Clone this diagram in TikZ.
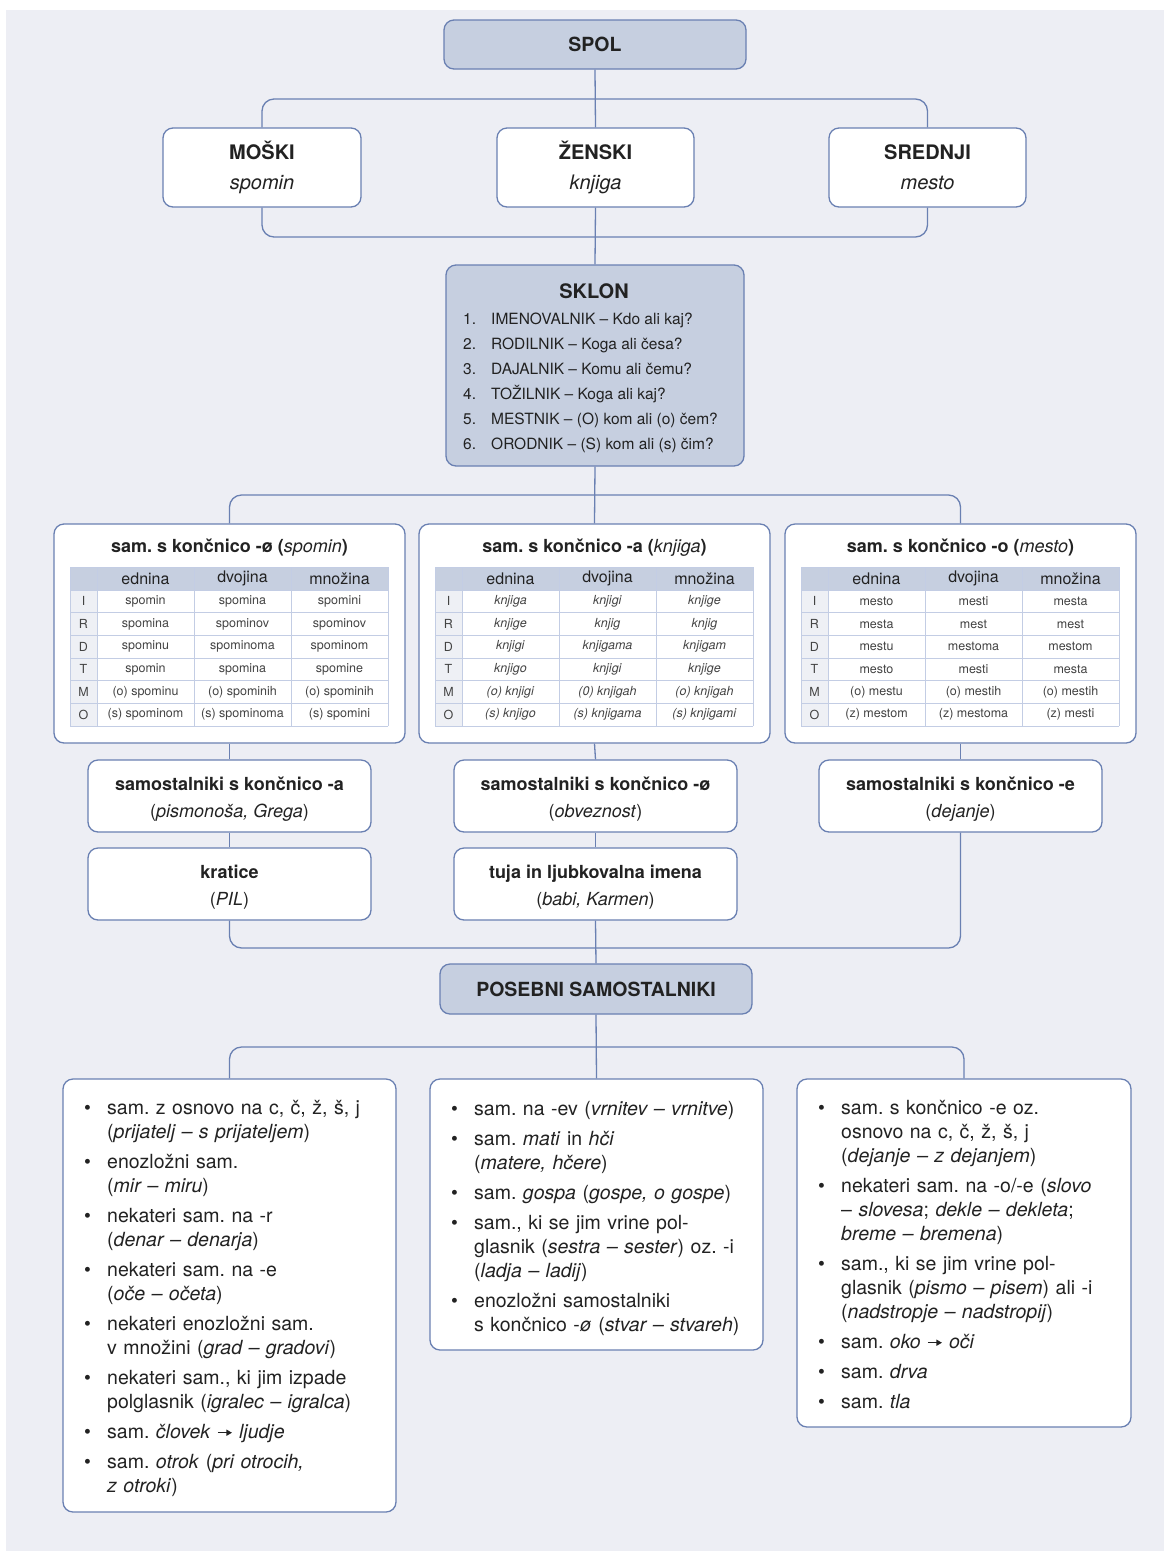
\documentclass[tikz,border=0pt]{standalone}
\usepackage{fontspec}
\setmainfont{TeX Gyre Heros}
\usetikzlibrary{arrows.meta}
\definecolor{bgc}{HTML}{EDEEF4}
\definecolor{edgec}{HTML}{6A80B2}
\definecolor{headc}{HTML}{C6CFE0}
\definecolor{gridc}{HTML}{C3CDE4}
\definecolor{labc}{HTML}{EEF0F5}
\definecolor{txt}{HTML}{222222}
\newcommand{\fs}[2]{\fontsize{#1}{#2}\selectfont}
\newcommand{\bitem}{\par\hangindent=23pt\hangafter=1\noindent\makebox[23pt][l]{•}}
\newcommand{\arr}{\tikz[baseline={(0pt,-5.5pt)}]\draw[txt, line width=1.3pt, -{Triangle[length=5.5pt,width=6pt]}] (0pt,0pt) -- (14pt,0pt);}
\newcommand{\tgrid}[1]{%
  \fill[headc] (#1,567) rectangle ++(318,23);
  \fill[labc] (#1,590) rectangle ++(27,136);
  \foreach \yy in {567,590,612.67,635.33,658,680.67,703.33,726} \draw[gridl] (#1,\yy) -- ++(318,0);
  \foreach \xx in {0,27,124,221,318} \draw[gridl] (#1+\xx,567) -- ++(0,159);
}
\newcommand{\thead}[2]{%
  \node[thd] (#1e) at (#2+75.5,578.5) {ednina};
  \node[thd] (#1d) at (#2+172.5,578.5) {dvojina};
  \node[thd] (#1m) at (#2+269.5,578.5) {množina};
}
\newcommand{\trow}[7]{%
  \node[cell] (#1l) at (#2+13.5,#3) {#4};
  \node[cell] (#1a) at (#2+75.5,#3) {#5};
  \node[cell] (#1b) at (#2+172.5,#3) {#6};
  \node[cell] (#1c) at (#2+269.5,#3) {#7};
}
\begin{document}
\frenchspacing
\begin{tikzpicture}[x=1pt,y=-1pt,
  box/.style={draw=edgec, line width=1.3pt, fill=white, rounded corners=10pt, inner sep=0pt, text=txt},
  hbox/.style={box, fill=headc},
  conn/.style={draw=edgec, line width=1.3pt, rounded corners=12pt},
  gridl/.style={draw=gridc, line width=0.9pt},
  cell/.style={inner sep=0pt, text=txt!85, font={\fs{12.5}{14}}},
  thd/.style={inner sep=0pt, text=txt, font={\fs{16}{18}}},
  ttl/.style={inner sep=0pt, text=txt, align=center},
  sbox/.style={box, minimum width=283, minimum height=72, align=center, font={\fs{18}{27}}},
  blist/.style={inner sep=0pt, text=txt, anchor=north west, text width=320pt, align=left, font={\fs{19.5}{24}}}
]
\useasboundingbox (0,0) rectangle (1164,1551);
\fill[white] (0,0) rectangle (1164,1551);
\fill[bgc] (6,10) rectangle (1164,1551);

% top
\node[hbox, minimum width=302, minimum height=49, font={\fs{19.5}{24}\bfseries}] (spol) at (595,44.5) {SPOL};
\node[box, minimum width=198, minimum height=79, align=center, font={\fs{20}{30}}] (mos) at (262,167.5) {\textbf{MOŠKI}\\\textit{spomin}};
\node[box, minimum width=197, minimum height=79, align=center, font={\fs{20}{30}}] (zen) at (595.5,167.5) {\textbf{ŽENSKI}\\\textit{knjiga}};
\node[box, minimum width=197, minimum height=79, align=center, font={\fs{20}{30}}] (sre) at (927.5,167.5) {\textbf{SREDNJI}\\\textit{mesto}};

% sklon
\node[hbox, minimum width=298, minimum height=201] (sklon) at (595,365.5) {};
\node[ttl, font={\fs{20}{24}\bfseries}] (sklt) at (594,291) {SKLON};
\node[inner sep=0pt, anchor=base west, text=txt, font={\fs{15.5}{18}}] (sk1) at (463,324) {\makebox[28pt][l]{1.}IMENOVALNIK – Kdo ali kaj?};
\node[inner sep=0pt, anchor=base west, text=txt, font={\fs{15.5}{18}}] (sk2) at (463,349) {\makebox[28pt][l]{2.}RODILNIK – Koga ali česa?};
\node[inner sep=0pt, anchor=base west, text=txt, font={\fs{15.5}{18}}] (sk3) at (463,374) {\makebox[28pt][l]{3.}DAJALNIK – Komu ali čemu?};
\node[inner sep=0pt, anchor=base west, text=txt, font={\fs{15.5}{18}}] (sk4) at (463,399) {\makebox[28pt][l]{4.}TOŽILNIK – Koga ali kaj?};
\node[inner sep=0pt, anchor=base west, text=txt, font={\fs{15.5}{18}}] (sk5) at (463,424) {\makebox[28pt][l]{5.}MESTNIK – (O) kom ali (o) čem?};
\node[inner sep=0pt, anchor=base west, text=txt, font={\fs{15.5}{18}}] (sk6) at (463,449) {\makebox[28pt][l]{6.}ORODNIK – (S) kom ali (s) čim?};

% table boxes
\node[box, minimum width=351, minimum height=219] (tA) at (229.5,633.5) {};
\node[box, minimum width=351, minimum height=219] (tB) at (594.5,633.5) {};
\node[box, minimum width=351, minimum height=219] (tC) at (960.5,633.5) {};
\node[ttl, font={\fs{18}{22}\bfseries}] (tAt) at (229.5,548) {sam. s končnico -ø ({\mdseries\itshape spomin})};
\node[ttl, font={\fs{18}{22}\bfseries}] (tBt) at (594.5,548) {sam. s končnico -a ({\mdseries\itshape knjiga})};
\node[ttl, font={\fs{18}{22}\bfseries}] (tCt) at (960.5,548) {sam. s končnico -o ({\mdseries\itshape mesto})};

\tgrid{70}
\tgrid{435}
\tgrid{801}
\thead{hA}{70}
\thead{hB}{435}
\thead{hC}{801}

\trow{a1}{70}{601.3}{I}{spomin}{spomina}{spomini}
\trow{a2}{70}{624}{R}{spomina}{spominov}{spominov}
\trow{a3}{70}{646.7}{D}{spominu}{spominoma}{spominom}
\trow{a4}{70}{669.3}{T}{spomin}{spomina}{spomine}
\trow{a5}{70}{692}{M}{(o) spominu}{(o) spominih}{(o) spominih}
\trow{a6}{70}{714.7}{O}{(s) spominom}{(s) spominoma}{(s) spomini}

\trow{b1}{435}{601.3}{I}{\textit{knjiga}}{\textit{knjigi}}{\textit{knjige}}
\trow{b2}{435}{624}{R}{\textit{knjige}}{\textit{knjig}}{\textit{knjig}}
\trow{b3}{435}{646.7}{D}{\textit{knjigi}}{\textit{knjigama}}{\textit{knjigam}}
\trow{b4}{435}{669.3}{T}{\textit{knjigo}}{\textit{knjigi}}{\textit{knjige}}
\trow{b5}{435}{692}{M}{\textit{(o) knjigi}}{\textit{(0) knjigah}}{\textit{(o) knjigah}}
\trow{b6}{435}{714.7}{O}{\textit{(s) knjigo}}{\textit{(s) knjigama}}{\textit{(s) knjigami}}

\trow{c1}{801}{601.3}{I}{mesto}{mesti}{mesta}
\trow{c2}{801}{624}{R}{mesta}{mest}{mest}
\trow{c3}{801}{646.7}{D}{mestu}{mestoma}{mestom}
\trow{c4}{801}{669.3}{T}{mesto}{mesti}{mesta}
\trow{c5}{801}{692}{M}{(o) mestu}{(o) mestih}{(o) mestih}
\trow{c6}{801}{714.7}{O}{(z) mestom}{(z) mestoma}{(z) mesti}

% small boxes
\node[sbox] (sa) at (229.5,796) {\rule{0pt}{19pt}\textbf{samostalniki s končnico -a}\\(\textit{pismonoša, Grega})};
\node[sbox] (sb) at (595.5,796) {\rule{0pt}{19pt}\textbf{samostalniki s končnico -ø}\\(\textit{obveznost})};
\node[sbox] (sc) at (960.5,796) {\rule{0pt}{19pt}\textbf{samostalniki s končnico -e}\\(\textit{dejanje})};
\node[sbox] (ka) at (229.5,884) {\rule{0pt}{19pt}\textbf{kratice}\\(\textit{PIL})};
\node[sbox] (kb) at (595.5,884) {\rule{0pt}{19pt}\textbf{tuja in ljubkovalna imena}\\(\textit{babi, Karmen})};

\node[hbox, minimum width=312, minimum height=50, font={\fs{19.5}{24}\bfseries}] (pos) at (596,989) {POSEBNI SAMOSTALNIKI};

% bottom boxes
\node[box, minimum width=333, minimum height=433] (ba) at (229.5,1295.5) {};
\node[box, minimum width=333, minimum height=271] (bb) at (596.5,1214.5) {};
\node[box, minimum width=334, minimum height=348] (bc) at (964,1253) {};

\node[blist] (la) at (84,1084) {\setlength{\parskip}{6pt}%
\bitem\rule{0pt}{20pt}sam. z osnovo na c, č, ž, š, j\newline (\textit{prijatelj – s prijateljem})
\bitem enozložni sam.\newline (\textit{mir – miru})
\bitem nekateri sam. na -r\newline (\textit{denar – denarja})
\bitem nekateri sam. na -e\newline (\textit{oče – očeta})
\bitem nekateri enozložni sam.\newline v množini (\textit{grad – gradovi})
\bitem nekateri sam., ki jim izpade\newline polglasnik (\textit{igralec – igralca})
\bitem sam. \textit{človek} \arr{} \textit{ljudje}
\bitem sam. \textit{otrok} (\textit{pri otrocih,}\newline \textit{z otroki})\par};

\node[blist] (lb) at (451,1085) {\setlength{\parskip}{6pt}%
\bitem\rule{0pt}{20pt}sam. na -ev (\textit{vrnitev – vrnitve})
\bitem sam. \textit{mati} in \textit{hči}\newline (\textit{matere, hčere})
\bitem sam. \textit{gospa} (\textit{gospe, o gospe})
\bitem sam., ki se jim vrine pol-\newline glasnik (\textit{sestra – sester}) oz. -i\newline (\textit{ladja – ladij})
\bitem enozložni samostalniki\newline s končnico -\textit{ø} (\textit{stvar – stvareh})\par};

\node[blist] (lc) at (818,1084) {\setlength{\parskip}{6pt}%
\bitem\rule{0pt}{20pt}sam. s končnico -e oz.\newline osnovo na c, č, ž, š, j\newline (\textit{dejanje – z dejanjem})
\bitem nekateri sam. na -o/-e (\textit{slovo}\newline – \textit{slovesa}; \textit{dekle – dekleta};\newline \textit{breme – bremena})
\bitem sam., ki se jim vrine pol-\newline glasnik (\textit{pismo – pisem}) ali -i\newline (\textit{nadstropje – nadstropij})
\bitem sam. \textit{oko} \arr{} \textit{oči}
\bitem sam. \textit{drva}
\bitem sam. \textit{tla}\par};

% junction coordinates
\coordinate (j1) at (595,99);
\coordinate (j2) at (595,237);
\coordinate (j3) at (595,495);
\coordinate (j4) at (595,948);
\coordinate (j5) at (596,1047);

% connectors
\draw[conn] (spol.south) -- (zen.north);
\draw[conn] (mos.north) |- (j1) -| (sre.north);
\draw[conn] (mos.south) |- (j2) -| (sre.south);
\draw[conn] (zen.south) -- (sklon.north);
\draw[conn] (sklon.south) -- (tB.north);
\draw[conn] (tA.north) |- (j3) -| (tC.north);
\draw[conn] (tA.south) -- (sa.north);
\draw[conn] (tB.south) -- (sb.north);
\draw[conn] (tC.south) -- (sc.north);
\draw[conn] (sa.south) -- (ka.north);
\draw[conn] (sb.south) -- (kb.north);
\draw[conn] (ka.south) |- (j4) -| (sc.south);
\draw[conn] (kb.south) -- (pos.north);
\draw[conn] (pos.south) -- (bb.north);
\draw[conn] (ba.north) |- (j5) -| (bc.north);
\end{tikzpicture}
\end{document}
